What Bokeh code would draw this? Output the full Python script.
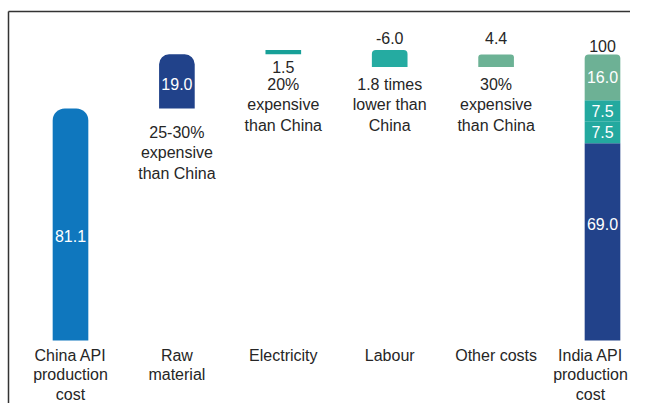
from bokeh.plotting import figure
from bokeh.models import Range1d
from bokeh.core.properties import value
from bokeh.embed import file_html
from bokeh.resources import INLINE

# ---------------- data ----------------
categories = ["China API\nproduction\ncost", "Raw\nmaterial", "Electricity",
              "Labour", "Other costs", "India API\nproduction\ncost"]
china_cost = 81.1
step_values = [19.0, 1.5, -6.0, 4.4]
step_notes = ["25-30%\nexpensive\nthan China", "20%\nexpensive\nthan China",
              "1.8 times\nlower than\nChina", "30%\nexpensive\nthan China"]
india_parts = [69.0, 7.5, 7.5, 16.0]
india_total = 100

# ---------------- styles ----------------
china_color = "#0F77BE"
step_colors = ["#21428A", "#17A098", "#25ABA1", "#6CB295"]
step_radius = [10, 0, 4, 3]
step_label_place = ["inside", "below", "above", "above"]
india_colors = ["#22428A", "#23A99F", "#23A99F", "#6DB195"]
FONT = value("Liberation Sans")
FS = "16px"
DARK = "#262626"
BAR_W = 0.335

W, H = 630, 403
PX_X, PX_Y = 106.4, 2.86
X0, X1 = -70 / PX_X, -70 / PX_X + W / PX_X
Y1 = 340 / PX_Y
Y0 = Y1 - H / PX_Y

p = figure(width=W, height=H, output_backend="svg", toolbar_location=None,
           x_range=Range1d(X0, X1), y_range=Range1d(Y0, Y1), min_border=0)
p.axis.visible = False
p.grid.visible = False
p.outline_line_color = None
p.background_fill_color = "white"
p.border_fill_color = "white"

xs = list(range(len(categories)))

# frame lines (top and left)
frame_top = Y1 - 11 / PX_Y
frame_left = X0 + 8 / PX_X
p.segment(x0=[frame_left, frame_left], y0=[frame_top, frame_top],
          x1=[X1 + 1, frame_left], y1=[frame_top, Y0 - 5],
          line_color="#333333", line_width=1.5)

def txt(x, y, s, color=DARK, baseline="middle", lh=1.2, xoff=0):
    p.text(x=[x], y=[y], text=[s], text_font=FONT, text_font_size=FS,
           text_color=color, text_align="center", text_baseline=baseline,
           text_line_height=lh, x_offset=xoff)

# China bar
p.vbar(x=[xs[0]], width=BAR_W, bottom=[0], top=[china_cost], color=china_color,
       line_color=None, border_radius=(12, 12, 0, 0))
txt(xs[0], china_cost * 0.45, f"{china_cost:.1f}", "white")

# waterfall steps
running = china_cost
lows, highs = [], []
for i, v in enumerate(step_values):
    lo, hi = min(running, running + v), max(running, running + v)
    lows.append(lo); highs.append(hi)
    running += v
    r = step_radius[i]
    p.vbar(x=[xs[i + 1]], width=BAR_W, bottom=[lo], top=[hi], color=step_colors[i],
           line_color=None, border_radius=(r, r, 0, 0))

above_row = max(highs[2:]) + 4.3
note_row = min(lows[1:]) - 6.4 + 3.36
for i, v in enumerate(step_values):
    x = xs[i + 1]
    place = step_label_place[i]
    if place == "inside":
        txt(x, (lows[i] + highs[i]) / 2 - 1.0, f"{v:.1f}", "white")
        txt(x, lows[i] - 8.7 + 3.36, step_notes[i], baseline="top")
    else:
        if place == "below":
            txt(x, lows[i] - 4.6, f"{v:.1f}")
        else:
            txt(x, above_row, f"{v:.1f}")
        txt(x, note_row, step_notes[i], baseline="top")

# India stacked bar
base = 0.0
n = len(india_parts)
for j, part in enumerate(india_parts):
    r = 4 if j == n - 1 else 0
    p.vbar(x=[xs[-1]], width=BAR_W, bottom=[base], top=[base + part],
           color=india_colors[j], line_color=None, border_radius=(r, r, 0, 0))
    mid = base + part / 2
    if j == 0:
        mid = base + part * 0.59
    txt(xs[-1], mid, f"{part:.1f}", "white")
    base += part
txt(xs[-1], india_total + 2.9, f"{india_total}")

# category labels
cat_top = -6 / PX_Y
for k, (x, c) in enumerate(zip(xs, categories)):
    txt(x, cat_top, c, baseline="top", lh=1.15, xoff=(-12 if k == len(xs) - 1 else 0))

open("out.html", "w").write(file_html(p, INLINE))
